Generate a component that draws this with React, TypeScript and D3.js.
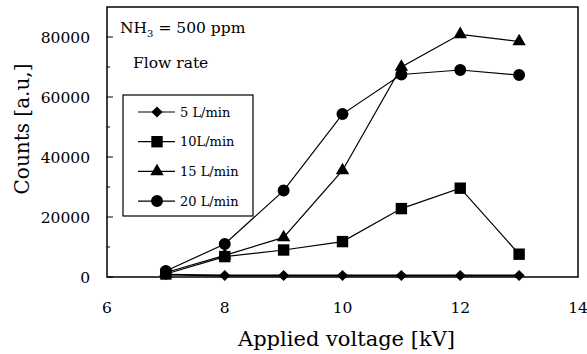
import * as d3 from "d3";

const voltages = [7, 8, 9, 10, 11, 12, 13];
const flow5 = [800, 500, 500, 500, 500, 500, 500];
const flow10 = [1000, 6800, 9000, 11800, 22800, 29600, 7600];
const flow15 = [1500, 7200, 13200, 35500, 70000, 80900, 78500];
const flow20 = [2000, 11000, 28800, 54300, 67500, 69000, 67300];
const seriesNames = ["5 L/min", "10L/min", "15 L/min", "20 L/min"];
const xTicks = [6, 8, 10, 12, 14];
const yTicks = [0, 20000, 40000, 60000, 80000];
const yMinorTicks = [10000, 30000, 50000, 70000];

const W = 587;
const H = 354;
const margin = { top: 7, right: 9, bottom: 77, left: 107 };
const font = "'DejaVu Serif', serif";

const series = [
  { name: seriesNames[0], values: flow5, shape: "diamond" },
  { name: seriesNames[1], values: flow10, shape: "square" },
  { name: seriesNames[2], values: flow15, shape: "triangle" },
  { name: seriesNames[3], values: flow20, shape: "circle" },
];

const symbolPath = (shape: string) => {
  if (shape === "diamond") return d3.symbol(d3.symbolSquare, 62)()!;
  if (shape === "square") return d3.symbol(d3.symbolSquare, 130)()!;
  if (shape === "triangle") return d3.symbol(d3.symbolTriangle, 78)()!;
  return d3.symbol(d3.symbolCircle, 113)()!;
};

function Marker({ shape, x, y }: { shape: string; x: number; y: number }) {
  const rot = shape === "diamond" ? " rotate(45)" : "";
  return <path d={symbolPath(shape)} transform={`translate(${x},${y})${rot}`} fill="#000" />;
}

export default function App() {
  const x = d3.scaleLinear().domain([6, 14]).range([margin.left, W - margin.right]);
  const y = d3.scaleLinear().domain([0, 90000]).range([H - margin.bottom, margin.top]);
  const line = d3
    .line<number>()
    .x((_, i) => x(voltages[i]))
    .y((d) => y(d));

  const legendX = 123;
  const legendY = 95;
  const rowH = 29.7;

  return (
    <svg
      width={W}
      height={H}
      style={{ position: "absolute", left: 0, top: 0, background: "#fff" }}
      fontFamily={font}
    >
      <rect x={0} y={0} width={W} height={H} fill="#fff" />
      {/* plot frame */}
      <rect
        x={margin.left}
        y={margin.top}
        width={W - margin.left - margin.right}
        height={H - margin.top - margin.bottom}
        fill="none"
        stroke="#000"
        strokeWidth={1.5}
      />
      {yTicks.map((t) => (
        <g key={t}>
          <line x1={margin.left} x2={margin.left + 6} y1={y(t)} y2={y(t)} stroke="#000" />
          <text x={90} y={y(t)} dy="0.36em" textAnchor="end" fontSize={15.5}>
            {t}
          </text>
        </g>
      ))}
      {yMinorTicks.map((t) => (
        <line key={t} x1={margin.left} x2={margin.left + 3} y1={y(t)} y2={y(t)} stroke="#000" />
      ))}
      {xTicks.map((t) => (
        <text key={t} x={x(t)} y={307} dy="0.36em" textAnchor="middle" fontSize={15.5}>
          {t}
        </text>
      ))}
      <text x={x(10) + 4} y={346} textAnchor="middle" fontSize={21}>
        Applied voltage [kV]
      </text>
      <text
        transform={`translate(29,129) rotate(-90)`}
        textAnchor="middle"
        fontSize={20}
      >
        Counts [a.u,]
      </text>

      {/* series */}
      {series.map((s) => (
        <g key={s.name}>
          <path d={line(s.values)!} fill="none" stroke="#000" strokeWidth={s.shape === "diamond" ? 1.8 : 1.2} />
          {s.values.map((v, i) => (
            <Marker key={i} shape={s.shape} x={x(voltages[i])} y={y(v)} />
          ))}
        </g>
      ))}

      {/* annotations */}
      <text x={120} y={33} fontSize={15.5}>
        NH<tspan dy={4} fontSize={10}>3</tspan>
        <tspan dy={-4}> = 500 ppm</tspan>
      </text>
      <text x={133} y={68} fontSize={15.5}>
        Flow rate
      </text>

      {/* legend */}
      <rect x={legendX} y={legendY} width={130} height={121} fill="#fff" stroke="#000" strokeWidth={1.2} />
      {series.map((s, i) => {
        const cy = legendY + 17 + i * rowH;
        return (
          <g key={s.name}>
            <line x1={138} x2={175} y1={cy} y2={cy} stroke="#000" strokeWidth={1.2} />
            <Marker shape={s.shape} x={157} y={cy} />
            <text x={180} y={cy} dy="0.36em" fontSize={13}>
              {s.name}
            </text>
          </g>
        );
      })}
    </svg>
  );
}
